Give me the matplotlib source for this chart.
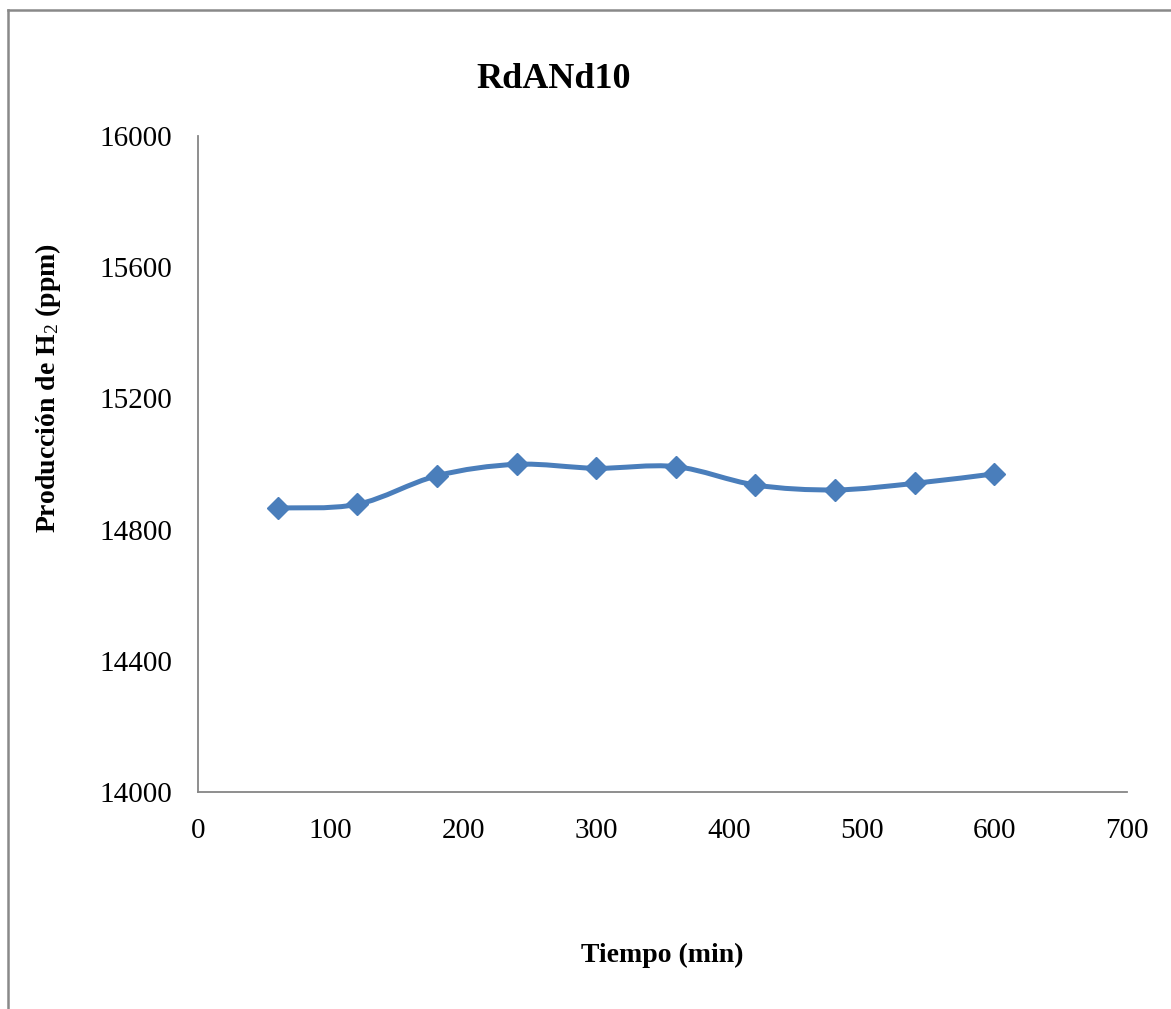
import numpy as np
import matplotlib
matplotlib.use("Agg")
import matplotlib.pyplot as plt
from matplotlib.path import Path
from matplotlib.patches import PathPatch
from matplotlib.lines import Line2D

# datos
tiempo = [60, 120, 180, 240, 300, 360, 420, 480, 540, 600]
produccion = [14866, 14877, 14964, 14999, 14987, 14992, 14936, 14921, 14941, 14970]

titulo = "RdANd10"
xlabel = "Tiempo (min)"
ylabel = r"Producción de H$_2$ (ppm)"
xticks = [0, 100, 200, 300, 400, 500, 600, 700]
yticks = [14000, 14400, 14800, 15200, 15600, 16000]

azul = "#4A7EBB"
gris = "#868686"

plt.rcParams["font.family"] = "Liberation Serif"
plt.rcParams["mathtext.fontset"] = "custom"
plt.rcParams["mathtext.rm"] = "Liberation Serif"
plt.rcParams["mathtext.it"] = "Liberation Serif:italic"
plt.rcParams["mathtext.bf"] = "Liberation Serif:bold"

fig = plt.figure(figsize=(11.71, 10.09), dpi=100)
ax = fig.add_axes([198 / 1171, 1 - 792 / 1009, (1127 - 198) / 1171, (792 - 136) / 1009])


## linea suavizada tipo Excel (Bezier, tension 1/6)
def curva_suave(x, y):
    pts = np.column_stack([x, y]).astype(float)
    n = len(pts)
    verts = [pts[0]]
    codes = [Path.MOVETO]
    for i in range(n - 1):
        p0 = pts[max(i - 1, 0)]
        p1 = pts[i]
        p2 = pts[i + 1]
        p3 = pts[min(i + 2, n - 1)]
        c1 = p1 + (p2 - p0) / 6.0
        c2 = p2 - (p3 - p1) / 6.0
        verts += [c1, c2, p2]
        codes += [Path.CURVE4] * 3
    return Path(verts, codes)


patch = PathPatch(curva_suave(tiempo, produccion), facecolor="none",
                  edgecolor=azul, linewidth=3.6, capstyle="round", joinstyle="round", zorder=2)
ax.add_patch(patch)
ax.plot(tiempo, produccion, linestyle="none", marker="D", markersize=11,
        color=azul, markeredgecolor=azul, zorder=3)

ax.set_xlim(0, 700)
ax.set_ylim(14000, 16000)
ax.set_xticks(xticks)
ax.set_yticks(yticks)
ax.tick_params(length=0, labelsize=21)
ax.tick_params(axis="y", pad=18.5)
ax.tick_params(axis="x", pad=19)

for s in ["top", "right"]:
    ax.spines[s].set_visible(False)
for s in ["left", "bottom"]:
    ax.spines[s].set_color(gris)
    ax.spines[s].set_linewidth(1.3)

fig.text(554 / 1171, 1 - 80 / 1009, titulo, ha="center", va="center",
         fontsize=26, fontweight="bold")
fig.text(662 / 1171, 1 - 955 / 1009, xlabel, ha="center", va="center",
         fontsize=20, fontweight="bold")
fig.text(48 / 1171, 1 - 388 / 1009, ylabel, ha="center", va="center",
         fontsize=20, fontweight="bold", rotation=90)

# borde del area del grafico
fig.add_artist(Line2D([8 / 1171, 8 / 1171], [0, 1 - 10 / 1009], color="#898989",
                      linewidth=1.8, transform=fig.transFigure))
fig.add_artist(Line2D([8 / 1171, 1], [1 - 10 / 1009, 1 - 10 / 1009], color="#898989",
                      linewidth=1.8, transform=fig.transFigure))

fig.savefig("out.png", dpi=100)
